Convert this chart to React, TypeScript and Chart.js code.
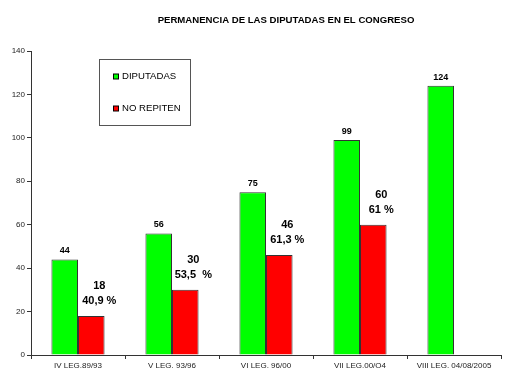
import React, { useEffect, useRef } from "react";
import { Chart, registerables } from "chart.js";

Chart.register(...registerables);

const TITLE = "PERMANENCIA DE LAS DIPUTADAS EN EL CONGRESO";
const categories = ["IV LEG.89/93", "V LEG. 93/96", "VI LEG. 96/00", "VII LEG.00/O4", "VIII LEG. 04/08/2005"];
const diputadas = [44, 56, 75, 99, 124];
const noRepiten = [18, 30, 46, 60, null];
const porcentajes = ["40,9 %", "53,5  %", "61,3 %", "61 %", ""];
const yTicks = [0, 20, 40, 60, 80, 100, 120, 140];

const FONT = "'Liberation Sans', Arial, sans-serif";

const overlayPlugin = {
  id: "overlay",
  afterDatasetsDraw(chart: any) {
    const ctx = chart.ctx;
    ctx.save();
    const m0 = chart.getDatasetMeta(0);
    ctx.fillStyle = "#000";
    ctx.textAlign = "center";
    ctx.textBaseline = "alphabetic";
    ctx.font = `bold 9px ${FONT}`;
    m0.data.forEach((bar: any, i: number) => {
      const v = diputadas[i];
      if (v == null) return;
      ctx.fillText(String(v), bar.x, bar.y - 6);
    });
    const m1 = chart.getDatasetMeta(1);
    ctx.font = `bold 11px ${FONT}`;
    m1.data.forEach((bar: any, i: number) => {
      const v = noRepiten[i];
      if (v == null) return;
      const x = bar.x + 8;
      ctx.fillText(porcentajes[i], x, bar.y - 12);
      ctx.fillText(String(v), x, bar.y - 27);
    });
    ctx.restore();
  },
  afterDraw(chart: any) {
    const ctx = chart.ctx;
    ctx.save();
    ctx.fillStyle = "#000";
    ctx.font = `bold 9.6px ${FONT}`;
    ctx.textAlign = "center";
    ctx.textBaseline = "middle";
    ctx.fillText(TITLE, 286, 20);
    const lx = 99.5, ly = 59.5, lw = 91, lh = 66;
    ctx.strokeStyle = "#555";
    ctx.lineWidth = 1;
    ctx.fillStyle = "#fff";
    ctx.fillRect(lx, ly, lw, lh);
    ctx.strokeRect(lx, ly, lw, lh);
    ctx.font = `9.6px ${FONT}`;
    ctx.textAlign = "left";
    chart.data.datasets.forEach((ds: any, i: number) => {
      const y = 76.5 + i * 32;
      ctx.fillStyle = ds.backgroundColor;
      ctx.fillRect(113.5, y - 2.5, 5, 5);
      ctx.strokeStyle = "#000";
      ctx.strokeRect(113.5, y - 2.5, 5, 5);
      ctx.fillStyle = "#000";
      ctx.fillText(ds.label, 122, y);
    });
    ctx.restore();
  },
};

export default function App() {
  const ref = useRef<HTMLCanvasElement>(null);
  useEffect(() => {
    if (!ref.current) return;
    const chart = new Chart(ref.current, {
      type: "bar",
      data: {
        labels: categories,
        datasets: [
          {
            label: "DIPUTADAS",
            data: diputadas,
            backgroundColor: "#00FF00",
            borderColor: "#333",
            borderWidth: 1,
          },
          {
            label: "NO REPITEN",
            data: noRepiten as any,
            backgroundColor: "#FF0000",
            borderColor: "#333",
            borderWidth: 1,
          },
        ],
      },
      options: {
        animation: false,
        responsive: false,
        maintainAspectRatio: false,
        layout: { padding: { left: 0, right: 19, top: 51, bottom: 0 } },
        datasets: { bar: { categoryPercentage: 0.565, barPercentage: 1 } },
        plugins: { legend: { display: false }, title: { display: false }, tooltip: { enabled: false } },
        scales: {
          x: {
            afterFit: (s: any) => { s.height = 28; },
            grid: { drawOnChartArea: false, drawTicks: true, tickLength: 4, color: "#333", offset: true },
            border: { color: "#333", width: 1 },
            ticks: { color: "#222", font: { family: FONT, size: 8 }, padding: 2, maxRotation: 0, autoSkip: false },
          },
          y: {
            min: 0,
            max: 140,
            afterFit: (s: any) => { s.width = 31; },
            afterBuildTicks: (s: any) => { s.ticks = yTicks.map((v) => ({ value: v })); },
            grid: { drawOnChartArea: false, drawTicks: true, tickLength: 4, color: "#333" },
            border: { color: "#333", width: 1 },
            ticks: { color: "#222", font: { family: FONT, size: 8 }, padding: 2 },
          },
        },
      },
      plugins: [overlayPlugin],
    });
    return () => chart.destroy();
  }, []);
  return (
    <div style={{ position: "fixed", left: 0, top: 0, width: 520, height: 383, background: "#fff" }}>
      <canvas ref={ref} width={520} height={383} style={{ width: 520, height: 383 }} />
    </div>
  );
}
